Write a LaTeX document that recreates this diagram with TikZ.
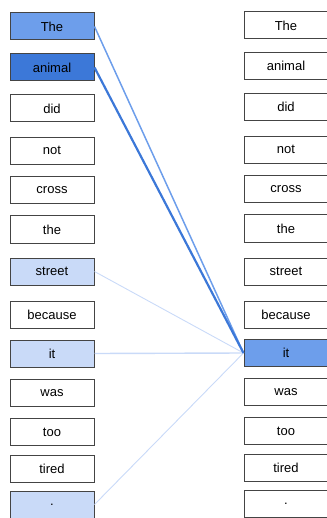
\documentclass[tikz,border=0pt]{standalone}
\usepackage{fontspec}
\setmainfont{Liberation Sans}
\definecolor{bA}{HTML}{6D9EEB}
\definecolor{bB}{HTML}{3C78D8}
\definecolor{bC}{HTML}{C9DAF8}
\definecolor{edge}{HTML}{444444}
\begin{document}
\begin{tikzpicture}[x=1pt,y=-1pt,
  box/.style={draw=edge,line width=1pt,rectangle,minimum width=84pt,minimum height=27pt,inner sep=0pt,font=\fontsize{13pt}{15pt}\selectfont},
  rbox/.style={box},
  lnA/.style={draw=bA,line width=1.5pt},
  lnB/.style={draw=bB,line width=2.2pt},
  lnC/.style={draw=bC,line width=0.9pt},
  lnCt/.style={draw=bC,line width=1.4pt}]
\useasboundingbox (0,0) rectangle (326,518);
% left column
\node[box,fill=bA] (l1) at (52,26.5) {The};
\node[box,fill=bB] (l2) at (52,67.5) {animal};
\node[box,fill=white] (l3) at (52,108.5) {did};
\node[box,fill=white] (l4) at (52,150.8) {not};
\node[box,fill=white] (l5) at (52,190.3) {cross};
\node[box,fill=white] (l6) at (52,229.5) {the};
\node[box,fill=bC] (l7) at (52,271.5) {street};
\node[box,fill=white] (l8) at (52,314.5) {because};
\node[box,fill=bC] (l9) at (52,353.5) {it};
\node[box,fill=white] (l10) at (52,392.8) {was};
\node[box,fill=white] (l11) at (52,432) {too};
\node[box,fill=white] (l12) at (52,468.5) {tired};
\node[box,fill=bC] (l13) at (52,504.5) {.};
% right column
\node[rbox,fill=white] (r1) at (286,25.5) {The};
\node[rbox,fill=white] (r2) at (286,66) {animal};
\node[rbox,fill=white] (r3) at (286,107) {did};
\node[rbox,fill=white] (r4) at (286,149.7) {not};
\node[rbox,fill=white] (r5) at (286,189.5) {cross};
\node[rbox,fill=white] (r6) at (286,228.5) {the};
\node[rbox,fill=white] (r7) at (286,271.5) {street};
\node[rbox,fill=white] (r8) at (286,314.5) {because};
\node[rbox,fill=bA] (r9) at (286,353) {it};
\node[rbox,fill=white] (r10) at (286,392) {was};
\node[rbox,fill=white] (r11) at (286,431) {too};
\node[rbox,fill=white] (r12) at (286,467.5) {tired};
\node[rbox,fill=white] (r13) at (286,503.5) {.};
% attention lines
\draw[lnC] (l7.east) -- (r9.west);
\draw[lnCt] (l9.east) -- (r9.west);
\draw[lnC] (l13.east) -- (r9.west);
\draw[lnA] (l1.east) -- (r9.west);
\draw[lnB] (l2.east) -- (r9.west);
\end{tikzpicture}
\end{document}
